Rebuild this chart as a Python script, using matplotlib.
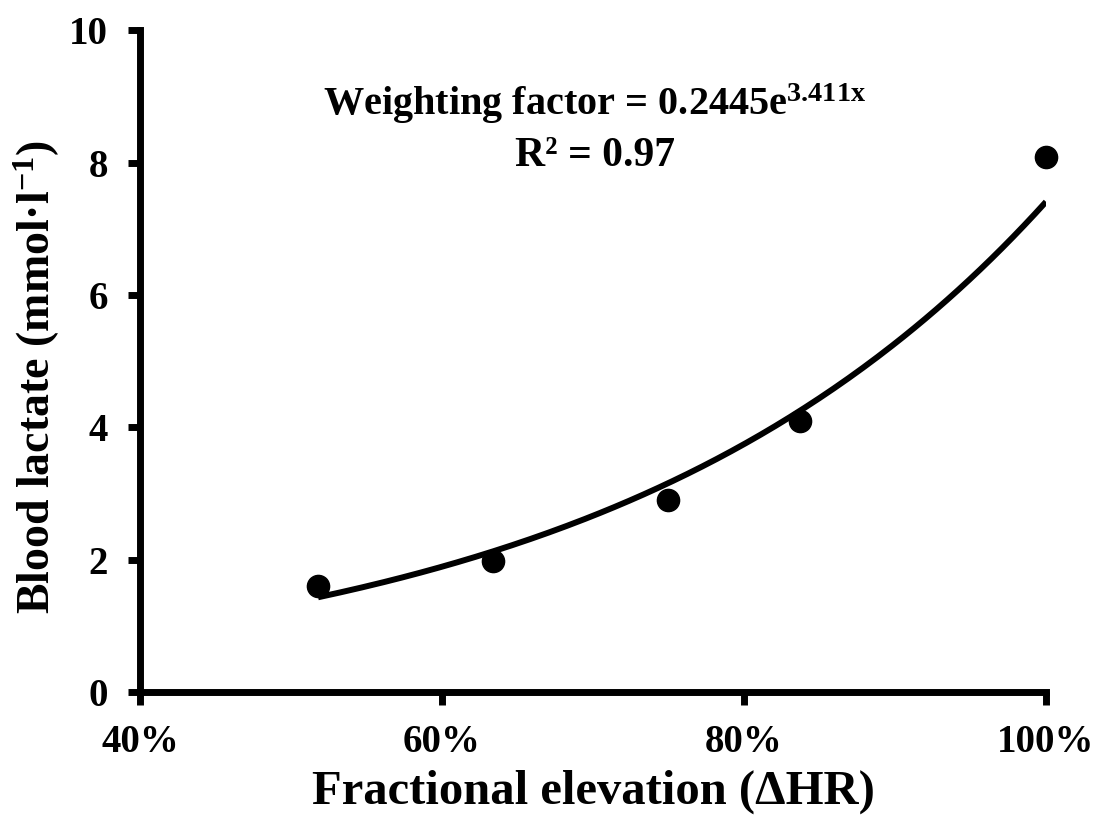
import numpy as np
import matplotlib
matplotlib.use("Agg")
import matplotlib.pyplot as plt
from matplotlib.ticker import FuncFormatter

# data
hr_fraction = [0.518, 0.634, 0.750, 0.837, 1.000]
lactate = [1.60, 1.98, 2.90, 4.09, 8.08]
fit_a = 0.2445
fit_b = 3.411
x_ticks = [0.4, 0.6, 0.8, 1.0]
y_ticks = [0, 2, 4, 6, 8, 10]

plt.rcParams['font.family'] = ['Liberation Serif', 'DejaVu Serif']
plt.rcParams['font.weight'] = 'bold'
plt.rcParams['mathtext.fontset'] = 'custom'
plt.rcParams['mathtext.rm'] = 'Liberation Serif:bold'
plt.rcParams['mathtext.it'] = 'Liberation Serif:bold'
plt.rcParams['mathtext.bf'] = 'Liberation Serif:bold'

fig = plt.figure(figsize=(10.93, 8.16), dpi=100)
ax = fig.add_axes([0.128, 0.152, 0.829, 0.811])

xs = np.linspace(min(hr_fraction), max(hr_fraction), 200)
ax.plot(xs, fit_a * np.exp(fit_b * xs), color='black', lw=4.3, solid_capstyle='butt', zorder=2)
ax.scatter(hr_fraction, lactate, s=16**2, color='black', zorder=3, clip_on=False)

ax.set_xlim(0.4, 1.0)
ax.set_ylim(0, 10)
ax.set_xticks(x_ticks)
ax.set_yticks(y_ticks)
ax.xaxis.set_major_formatter(FuncFormatter(lambda v, p: f"{v*100:.0f}%"))

for s in ['top', 'right']:
    ax.spines[s].set_visible(False)
for s in ['left', 'bottom']:
    ax.spines[s].set_linewidth(5)
    ax.spines[s].set_capstyle('projecting')
ax.tick_params(axis='both', direction='out', length=9, width=5, labelsize=28)
ax.tick_params(axis='y', pad=14)
ax.tick_params(axis='x', pad=14)
for lab in ax.get_xticklabels() + ax.get_yticklabels():
    lab.set_fontweight('bold')

ax.set_xlabel('Fractional elevation (ΔHR)', fontsize=35, fontweight='bold', labelpad=6)
ax.set_ylabel('Blood lactate (mmol·l$^{-1}$)', fontsize=33, fontweight='bold')
ax.yaxis.set_label_coords(-0.086, 0.476)

ax.text(0.502, 0.889, f'Weighting factor = {fit_a}e$^{{{fit_b:.3f}x}}$',
        transform=ax.transAxes, ha='center', va='center', fontsize=29, fontweight='bold')
ax.text(0.502, 0.81, 'R² = 0.97', transform=ax.transAxes, ha='center', va='center',
        fontsize=30, fontweight='bold')

fig.savefig('out.png', dpi=100)
